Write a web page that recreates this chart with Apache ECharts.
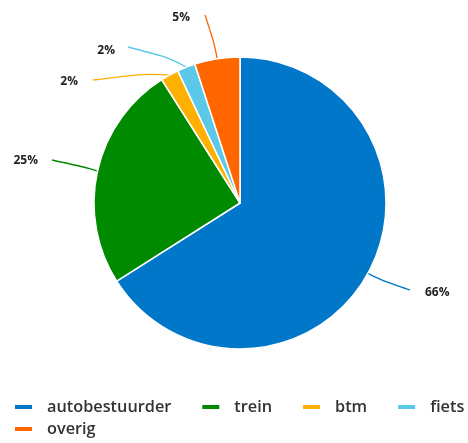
<!DOCTYPE html>
<html>
<head>
<meta charset="utf-8">
<script src="https://cdn.jsdelivr.net/npm/echarts@6/dist/echarts.min.js"></script>
<style>
  html, body { margin: 0; padding: 0; background: #fff; }
  #chart { width: 468px; height: 443px; }
</style>
</head>
<body>
<div id="chart"></div>
<script>
// Modal split of trips (percent)
const categories = ['autobestuurder', 'trein', 'btm', 'fiets', 'overig'];
const shares = [66, 25, 2, 2, 5];
const colors = ['#0077c8', '#008a00', '#ffb000', '#5bc8e8', '#ff6600'];

const chart = echarts.init(document.getElementById('chart'));

// Label anchors (x, y) and where each leader line stops (lx, ly)
const labelSpots = [
  { x: 425, y: 293, align: 'left',  lx: 410, ly: 290 },
  { x: 38,  y: 161, align: 'right', lx: 52,  ly: 160 },
  { x: 78,  y: 82,  align: 'right', lx: 93,  ly: 80 },
  { x: 115, y: 51,  align: 'right', lx: 128, ly: 47 },
  { x: 190, y: 18,  align: 'right', lx: 205, ly: 15 }
];

const legendText = {
  fontFamily: 'Open Sans', fontSize: 16.3, color: '#333', fontWeight: 600,
  padding: [0, 0, 0, 9]
};

chart.setOption({
  animation: false,
  color: colors,
  legend: [{
    left: 13,
    top: 399,
    width: 455,
    padding: 0,
    itemWidth: 19,
    itemHeight: 6,
    itemGap: 29,
    icon: 'rect',
    textStyle: legendText,
    data: categories.slice(0, 4)
  }, {
    left: 13,
    top: 421,
    padding: 0,
    itemWidth: 19,
    itemHeight: 6,
    icon: 'rect',
    textStyle: legendText,
    data: categories.slice(4)
  }],
  series: [{
    type: 'pie',
    center: [240, 203],
    radius: 146,
    startAngle: 90,
    clockwise: true,
    itemStyle: { borderColor: '#fff', borderWidth: 1.5 },
    label: {
      show: true,
      formatter: '{c}%',
      fontFamily: 'Open Sans',
      fontSize: 12,
      fontWeight: 'bold',
      color: '#222',
      overflow: 'none'
    },
    labelLine: {
      show: true,
      smooth: 0.6,
      length: 14,
      length2: 30,
      lineStyle: { width: 1.3 }
    },
    labelLayout: function (p) {
      const s = labelSpots[p.dataIndex];
      const out = { x: s.x, y: s.y, align: s.align, verticalAlign: 'middle' };
      const pts = p.labelLinePoints;
      if (pts && pts.length >= 2) {
        out.labelLinePoints = [pts[0], pts[1], [s.lx, s.ly]];
      }
      return out;
    },
    data: categories.map((name, i) => ({ name: name, value: shares[i] }))
  }]
});
</script>
</body>
</html>
